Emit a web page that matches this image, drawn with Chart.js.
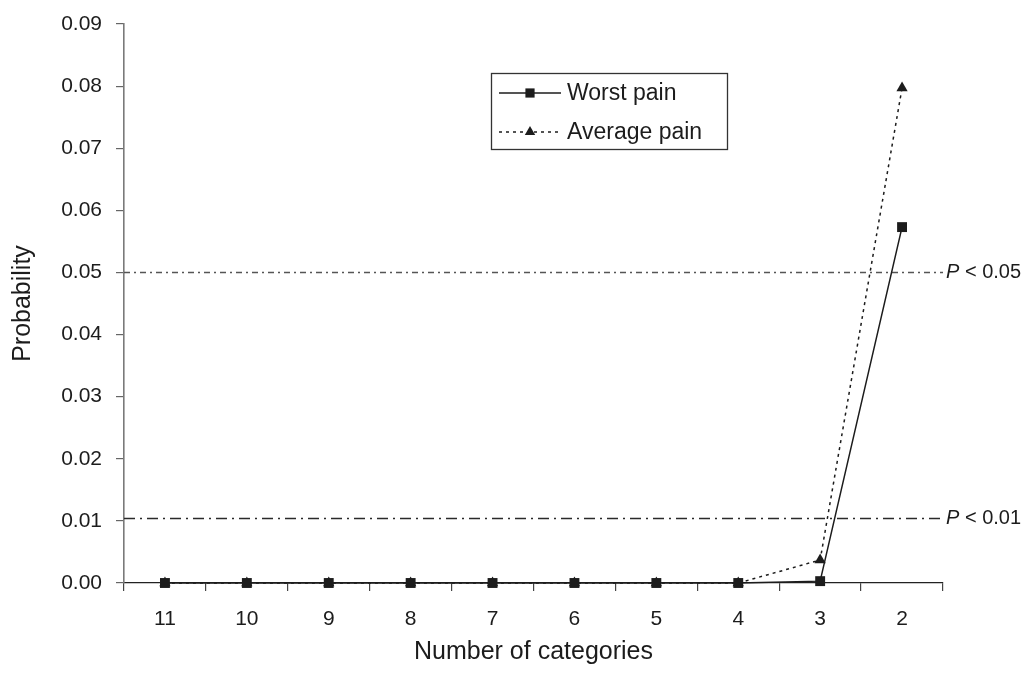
<!DOCTYPE html>
<html>
<head>
<meta charset="utf-8">
<script src="https://cdn.jsdelivr.net/npm/chart.js@4.4.1/dist/chart.umd.min.js"></script>
<style>
  html, body { margin: 0; padding: 0; background: #ffffff; }
  #wrap { width: 1027px; height: 677px; position: relative; }
</style>
</head>
<body>
<div id="wrap"><canvas id="c" width="1027" height="677"></canvas></div>
<script>
// Number of response categories (collapsed from 11 down to 2)
const categories = ['11', '10', '9', '8', '7', '6', '5', '4', '3', '2'];

// Probability values for each pain measure
const worstPain   = [0, 0, 0, 0, 0, 0, 0, 0, 0.0003, 0.0573];
const averagePain = [0, 0, 0, 0, 0, 0, 0, 0, 0.0037, 0.0797];

// Significance thresholds drawn as horizontal reference lines
const thresholdValues = [0.05, 0.0104];
const thresholdLabels = ['0.05', '0.01'];

const FONT = '"Liberation Sans", Arial, Helvetica, sans-serif';
const INK = '#1c1c1c';

// Horizontal significance lines with their labels beyond the plot's right edge
const thresholdPlugin = {
  id: 'thresholds',
  beforeDatasetsDraw(chart) {
    const { ctx, chartArea, scales } = chart;
    const styles = [
      { color: '#555555', dash: [6, 4, 2, 4] },
      { color: '#2a2a2a', dash: [11, 5, 2, 5] }
    ];
    thresholdValues.forEach((v, i) => {
      const y = Math.round(scales.y.getPixelForValue(v)) + 0.5;
      ctx.save();
      ctx.strokeStyle = styles[i].color;
      ctx.lineWidth = 1.3;
      ctx.setLineDash(styles[i].dash);
      ctx.beginPath();
      ctx.moveTo(chartArea.left, y);
      ctx.lineTo(chartArea.right, y);
      ctx.stroke();
      ctx.setLineDash([]);
      ctx.fillStyle = INK;
      ctx.textBaseline = 'middle';
      ctx.textAlign = 'left';
      let x = chartArea.right + 3;
      ctx.font = 'italic 20px ' + FONT;
      ctx.fillText('P', x, y);
      x += ctx.measureText('P').width;
      ctx.font = '20px ' + FONT;
      ctx.fillText(' < ' + thresholdLabels[i], x, y);
      ctx.restore();
    });
  }
};

// Boxed legend inside the plot area
const boxLegendPlugin = {
  id: 'boxLegend',
  afterDraw(chart) {
    const { ctx } = chart;
    const box = { x: 491, y: 73, w: 236, h: 76 };
    ctx.save();
    ctx.fillStyle = '#ffffff';
    ctx.fillRect(box.x, box.y, box.w, box.h);
    ctx.strokeStyle = '#333333';
    ctx.lineWidth = 1.3;
    ctx.strokeRect(box.x + 0.5, box.y + 0.5, box.w, box.h);
    const rows = [box.y + 20, box.y + 59];
    chart.data.datasets.forEach((ds, i) => {
      const y = rows[i];
      ctx.strokeStyle = ds.borderColor;
      ctx.lineWidth = ds.borderWidth;
      ctx.setLineDash(ds.borderDash || []);
      ctx.beginPath();
      ctx.moveTo(box.x + 8, y);
      ctx.lineTo(box.x + 70, y);
      ctx.stroke();
      ctx.setLineDash([]);
      ctx.fillStyle = ds.pointBackgroundColor;
      Chart.helpers.drawPoint(ctx, {
        pointStyle: ds.pointStyle,
        radius: ds.pointRadius - 0.5,
        rotation: 0,
        borderWidth: 0
      }, box.x + 39, y);
      ctx.fillStyle = INK;
      ctx.font = '23px ' + FONT;
      ctx.textBaseline = 'middle';
      ctx.textAlign = 'left';
      ctx.fillText(ds.label, box.x + 76, y + 1);
    });
    ctx.restore();
  }
};

new Chart(document.getElementById('c'), {
  type: 'line',
  data: {
    labels: categories,
    datasets: [
      {
        label: 'Worst pain',
        data: worstPain,
        borderColor: INK,
        backgroundColor: INK,
        borderWidth: 1.5,
        pointStyle: 'rect',
        pointRadius: 7,
        pointBorderWidth: 0,
        pointBackgroundColor: INK,
        tension: 0,
        clip: false
      },
      {
        label: 'Average pain',
        data: averagePain,
        borderColor: INK,
        backgroundColor: INK,
        borderWidth: 1.5,
        borderDash: [3, 4],
        pointStyle: 'triangle',
        pointRadius: 6.5,
        pointBorderWidth: 0,
        pointBackgroundColor: INK,
        tension: 0,
        clip: false
      }
    ]
  },
  options: {
    responsive: false,
    animation: false,
    events: [],
    layout: { padding: { top: 0, right: 84, bottom: 4, left: 0 } },
    plugins: {
      legend: { display: false },
      tooltip: { enabled: false }
    },
    scales: {
      x: {
        type: 'category',
        offset: true,
        grid: {
          offset: true,
          drawOnChartArea: false,
          drawTicks: true,
          tickLength: 8,
          color: '#444444',
          lineWidth: 1.2
        },
        border: { color: '#222222', width: 1.3 },
        ticks: {
          color: INK,
          font: { family: FONT, size: 21 },
          padding: 16,
          maxRotation: 0
        },
        title: {
          display: true,
          text: 'Number of categories',
          color: INK,
          font: { family: FONT, size: 25 },
          padding: { top: 8, bottom: 6 }
        },
        afterFit(scale) { scale.height = 90; }
      },
      y: {
        min: 0,
        max: 0.09,
        ticks: {
          stepSize: 0.01,
          color: INK,
          font: { family: FONT, size: 21 },
          padding: 14,
          callback: v => Number(v).toFixed(2)
        },
        grid: {
          drawOnChartArea: false,
          drawTicks: true,
          tickLength: 8,
          color: '#666666',
          lineWidth: 1.2
        },
        border: { color: '#7a7a7a', width: 1.6 },
        title: {
          display: true,
          text: 'Probability',
          color: INK,
          font: { family: FONT, size: 25 },
          padding: { top: 8, bottom: 0 }
        },
        afterFit(scale) {
          scale.width = 124;
          scale.paddingTop = 24;
        }
      }
    }
  },
  plugins: [thresholdPlugin, boxLegendPlugin]
});
</script>
</body>
</html>
